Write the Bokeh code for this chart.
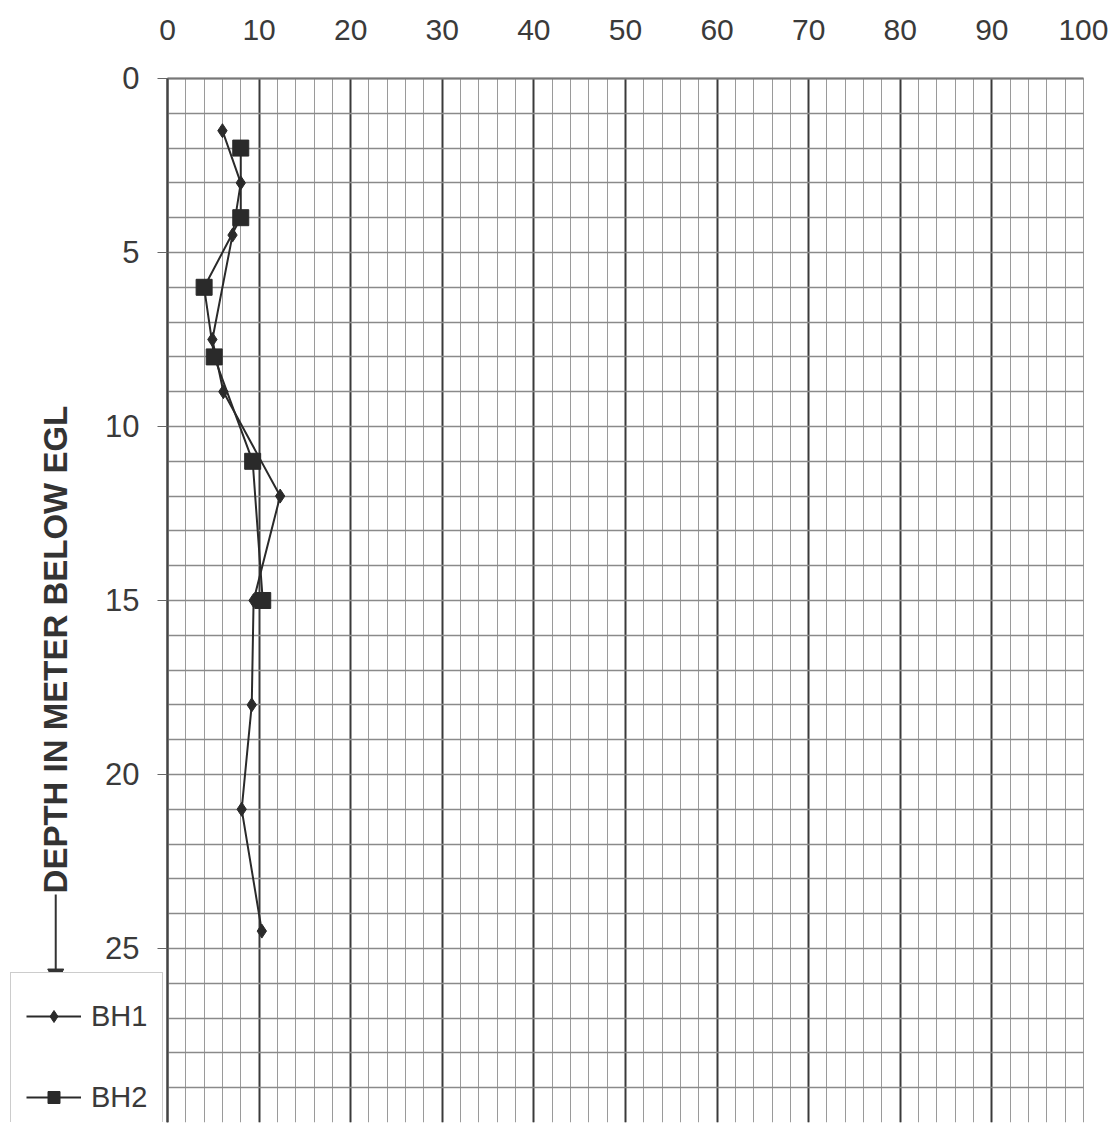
from bokeh.plotting import figure
from bokeh.models import FixedTicker, Label, Arrow, NormalHead, Legend, LegendItem, Range1d
from bokeh.embed import file_html
from bokeh.resources import INLINE
import math

# ---- data ----
bh1_depth = [1.5, 3, 4.5, 7.5, 9, 12, 15, 18, 21, 24.5]
bh1_value = [6.0, 8.0, 7.1, 4.9, 6.1, 12.3, 9.4, 9.2, 8.1, 10.3]
bh2_depth = [2, 4, 6, 8, 11, 15]
bh2_value = [8.0, 8.0, 4.0, 5.1, 9.3, 10.4]
x_tick_labels = [0, 10, 20, 30, 40, 50, 60, 70, 80, 90, 100]
y_tick_labels = [0, 5, 10, 15, 20, 25]
series_names = ["BH1", "BH2"]
y_title = "DEPTH IN METER BELOW EGL"

FONT = "Liberation Sans"
INK = "#2a2a2a"

# frame spans the whole canvas so that the title, arrow, legend and tick labels
# outside the value area are drawn inside it; the value axes sit at x=0 / y=0
p = figure(width=1112, height=1126, output_backend="svg", toolbar_location=None,
           x_axis_location="above",
           x_range=Range1d(-18.23, 103.17), y_range=Range1d(30, -2.241),
           min_border_left=0, min_border_right=0, min_border_top=0, min_border_bottom=4)
p.outline_line_color = None
p.background_fill_color = "white"
p.border_fill_color = "white"

# axes
p.xaxis.ticker = FixedTicker(ticks=x_tick_labels)
p.xaxis.bounds = (0, 100)
p.xaxis.fixed_location = 0
p.yaxis.ticker = FixedTicker(ticks=y_tick_labels)
p.yaxis.bounds = (0, 30)
p.yaxis.fixed_location = 0
for ax in (p.xaxis[0], p.yaxis[0]):
    ax.major_label_text_font = FONT
    ax.major_label_text_color = "#3a3a3a"
    ax.minor_tick_line_color = None
    ax.major_tick_in = 0
p.xaxis.major_label_text_font_size = "30px"
p.yaxis.major_label_text_font_size = "31px"
p.xaxis.major_tick_out = 0
p.xaxis.axis_line_color = "#777777"
p.xaxis.axis_line_width = 2
p.xaxis.major_label_standoff = 38
p.yaxis.major_tick_out = 10
p.yaxis.major_tick_line_color = "#666666"
p.yaxis.axis_line_color = "#444444"
p.yaxis.axis_line_width = 2
p.yaxis.major_label_standoff = 18

# grid: x major every 10 (dark), minor every 2; y every 1
p.xgrid.ticker = FixedTicker(ticks=[v for v in x_tick_labels if v < 100],
                             minor_ticks=list(range(0, 101, 2)))
p.xgrid.cross_bounds = (0, 30)
p.xgrid.grid_line_color = "#3a3a3a"
p.xgrid.grid_line_width = 2
p.xgrid.minor_grid_line_color = "#9a9a9a"
p.xgrid.minor_grid_line_width = 1
p.ygrid.ticker = FixedTicker(ticks=list(range(0, 31)))
p.ygrid.cross_bounds = (0, 100)
p.ygrid.grid_line_color = "#8a8a8a"
p.ygrid.grid_line_width = 1.3

# series
l1 = p.line(bh1_value, bh1_depth, line_color=INK, line_width=2)
s1 = p.scatter(bh1_value, bh1_depth, marker="diamond", size=14, fill_color=INK, line_color=INK)
l2 = p.line(bh2_value, bh2_depth, line_color=INK, line_width=2)
s2 = p.scatter(bh2_value, bh2_depth, marker="square", size=16, fill_color=INK, line_color=INK)

legend = Legend(items=[LegendItem(label=series_names[0], renderers=[l1, s1]),
                       LegendItem(label=series_names[1], renderers=[l2, s2])],
                location=(10, -19))
legend.label_text_font = FONT
legend.label_text_font_size = "29px"
legend.label_text_color = "#3a3a3a"
legend.glyph_width = 55
legend.glyph_height = 30
legend.label_height = 56
legend.spacing = 25
legend.padding = 15
legend.margin = 0
legend.label_standoff = 10
legend.border_line_color = "#999999"
legend.border_line_width = 1.5
legend.background_fill_color = "white"
legend.background_fill_alpha = 1.0
p.add_layout(legend)

# rotated axis title with arrow
p.add_layout(Label(x=-12.2, y=16.41, text=y_title, angle=math.pi / 2,
                   text_align="center", text_baseline="middle",
                   text_font=FONT, text_font_size="33px", text_font_style="bold",
                   text_color="#333333"))
p.add_layout(Arrow(end=NormalHead(size=16, fill_color="#333333", line_color="#333333"),
                   x_start=-12.2, y_start=23.45, x_end=-12.2, y_end=26.05,
                   line_color="#333333", line_width=2))

open("out.html", "w").write(file_html(p, INLINE))
